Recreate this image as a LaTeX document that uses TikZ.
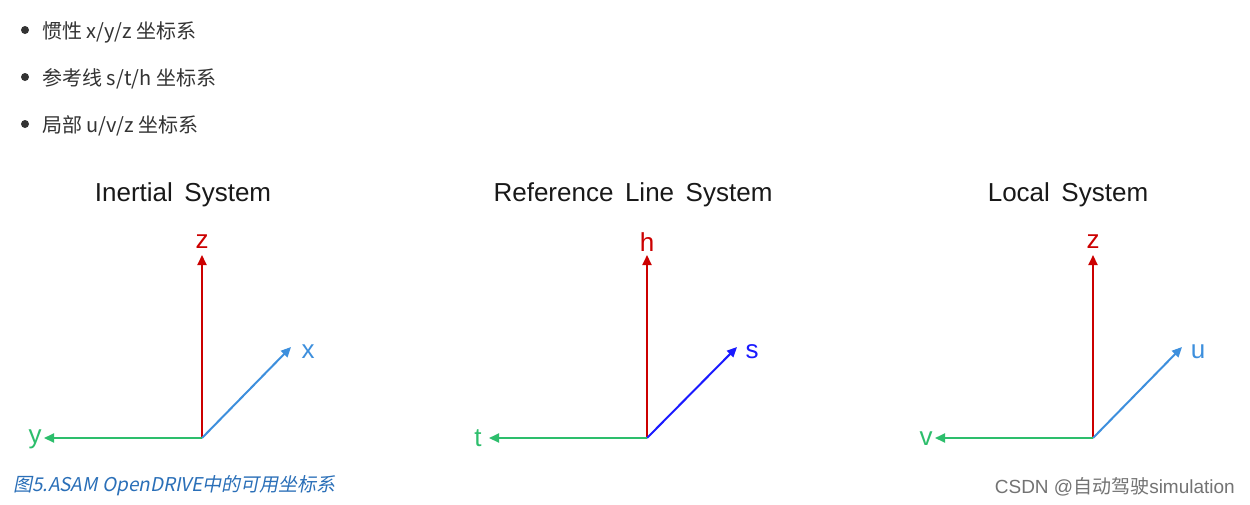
\documentclass[tikz,border=0pt]{standalone}
\usepackage{fontspec}
\setmainfont{Liberation Sans}
\newfontfamily\cjk{Noto Sans CJK SC}
\newfontfamily\cjkit[FakeSlant=0.2]{Noto Sans CJK SC}
\usetikzlibrary{arrows.meta}
\definecolor{axred}{HTML}{CC0000}
\definecolor{axblue}{HTML}{3D8FDD}
\definecolor{axdeep}{HTML}{1A1AFF}
\definecolor{axgreen}{HTML}{2DBE6C}
\definecolor{captblue}{HTML}{2A6FB8}
\definecolor{bullgray}{HTML}{333333}
\begin{document}
\begin{tikzpicture}[x=1pt,y=-1pt,
  axis/.style={line width=2pt,-{Triangle[length=10pt,width=9pt]}},
  title/.style={font=\fontsize{26}{30}\selectfont,text=black!90},
  lbl/.style={font=\fontsize{26}{30}\selectfont,inner sep=0pt},
  item/.style={anchor=west,font=\cjk\fontsize{20}{24}\selectfont,text=bullgray,inner sep=0pt}]
\useasboundingbox[fill=white](0,0) rectangle (1250,504);
% bullet list
\foreach \yy/\txt/\nm in {32/{惯性 x/y/z 坐标系}/b1,79/{参考线 s/t/h 坐标系}/b2,126/{局部 u/v/z 坐标系}/b3}{
  \fill[bullgray] (25,\yy-2) circle (4pt);
  \node[item] (\nm) at (42,\yy) {\txt};}
% titles
\node[title] (tin) at (183,195) {Inertial\, System};
\node[title] (tref) at (633,195) {Reference\, Line\, System};
\node[title] (tloc) at (1068,195) {Local\, System};
% inertial system
\coordinate (o1) at (202,438);
\coordinate (z1) at (202,255);\coordinate (x1) at (291,347);\coordinate (y1) at (44,438);
\draw[axis,axred](o1)--(z1);\draw[axis,axblue](o1)--(x1);\draw[axis,axgreen](o1)--(y1);
\node[lbl,text=axred] (lz1) at (202,242) {z};
\node[lbl,text=axblue] (lx1) at (308,352) {x};
\node[lbl,text=axgreen] (ly1) at (35,439) {y};
% reference line system
\coordinate (o2) at (647,438);
\coordinate (h2) at (647,255);\coordinate (s2) at (737,347);\coordinate (t2) at (489,438);
\draw[axis,axred](o2)--(h2);\draw[axis,axdeep](o2)--(s2);\draw[axis,axgreen](o2)--(t2);
\node[lbl,text=axred] (lh2) at (647,242) {h};
\node[lbl,text=axdeep] (ls2) at (752,352) {s};
\node[lbl,text=axgreen] (lt2) at (478,438) {t};
% local system
\coordinate (o3) at (1093,438);
\coordinate (z3) at (1093,255);\coordinate (u3) at (1182,347);\coordinate (v3) at (935,438);
\draw[axis,axred](o3)--(z3);\draw[axis,axblue](o3)--(u3);\draw[axis,axgreen](o3)--(v3);
\node[lbl,text=axred] (lz3) at (1093,242) {z};
\node[lbl,text=axblue] (lu3) at (1198,352) {u};
\node[lbl,text=axgreen] (lv3) at (926,439) {v};
% caption and mark
\node[anchor=west,inner sep=0pt,text=captblue,font=\cjkit\fontsize{19}{22}\selectfont] (cap) at (13,486) {图5.ASAM OpenDRIVE中的可用坐标系};
\node[anchor=east,inner sep=0pt,text=black!55,font=\fontsize{19}{22}\selectfont] (mark) at (1235,487) {CSDN @{\cjk 自动驾驶}simulation};
\end{tikzpicture}
\end{document}
